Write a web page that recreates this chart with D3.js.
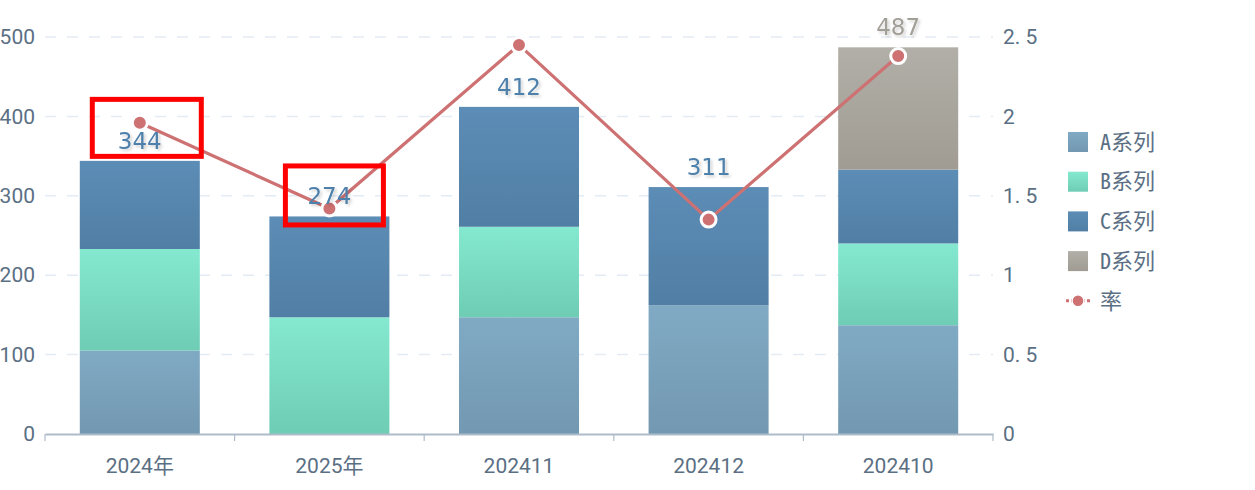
<!DOCTYPE html>
<html><head><meta charset="utf-8">
<script src="https://cdn.jsdelivr.net/npm/d3@7/dist/d3.min.js"></script>
<style>
html,body{margin:0;padding:0;background:#fff;}
svg{display:block;}
</style></head>
<body>
<svg id="chart" width="1255" height="490"></svg>
<script>
const categories = ["2024年","2025年","202411","202412","202410"];
const seriesNames = ["A系列","B系列","C系列","D系列"];
const seriesA = [105, 0, 147, 162, 137];
const seriesB = [128, 147, 114, 0, 103];
const seriesC = [111, 127, 151, 149, 93];
const seriesD = [0, 0, 0, 0, 154];
const rate = [1.96, 1.42, 2.45, 1.35, 2.38];
const rateName = "率";
const leftTicks = [0,100,200,300,400,500];
const rightTicks = [0,0.5,1,1.5,2,2.5];
const rightTickLabels = ["0","0. 5","1","1. 5","2","2. 5"];
const highlighted = ["2024年","2025年"];

// annotation box layout (relative to the stack top of each highlighted category)
const boxLayout = [
  {dx:7, dyTop:-61.5, w:109, h:57},
  {dx:5, dyTop:-50.5, w:98, h:59}
];

const colors = [
  ["#80aac4","#7398b1"],
  ["#84e9d0","#6ecdb4"],
  ["#5c8db6","#517ea4"],
  ["#b1afa7","#a09c94"]
];
const labelColors = ["#4e80ab","#4e80ab","#4e80ab","#a29f97"];
const lineColor = "#cd7172";
const textColor = "#5b6f84";

const W = 1255, H = 490;
const m = {left:45, right:262, top:37, bottom:56};
const svg = d3.select("#chart");
const defs = svg.append("defs");
colors.forEach((c,i)=>{
  const g = defs.append("linearGradient").attr("id","g"+i).attr("x1",0).attr("y1",0).attr("x2",0).attr("y2",1);
  g.append("stop").attr("offset","0%").attr("stop-color",c[0]);
  g.append("stop").attr("offset","100%").attr("stop-color",c[1]);
});
const f = defs.append("filter").attr("id","shadow").attr("x","-20%").attr("y","-20%").attr("width","150%").attr("height","150%");
f.append("feDropShadow").attr("dx",2).attr("dy",2).attr("stdDeviation",1.5).attr("flood-color","#000").attr("flood-opacity",0.18);

const x = d3.scaleBand().domain(categories).range([m.left, W - m.right]).paddingInner(0).paddingOuter(0);
const y = d3.scaleLinear().domain([0,500]).range([H - m.bottom, m.top]);
const y2 = d3.scaleLinear().domain([0,2.5]).range([H - m.bottom, m.top]);
const barW = x.bandwidth()*0.633;

// grid
svg.append("g").selectAll("line").data(leftTicks.filter(d=>d>0)).join("line")
  .attr("x1", m.left).attr("x2", W - m.right)
  .attr("y1", d=>y(d)).attr("y2", d=>y(d))
  .attr("stroke","#e3ebf4").attr("stroke-width",1.5).attr("stroke-dasharray","11,11");

// stacked bars
const rows = categories.map((c,i)=>({cat:c, A:seriesA[i], B:seriesB[i], C:seriesC[i], D:seriesD[i]}));
const stack = d3.stack().keys(["A","B","C","D"])(rows);
stack.forEach((layer,li)=>{
  svg.append("g").selectAll("rect").data(layer.filter(d=>d[1]-d[0]>0)).join("rect")
    .attr("x", d=>x(d.data.cat)+(x.bandwidth()-barW)/2)
    .attr("width", barW)
    .attr("y", d=>y(d[1]))
    .attr("height", d=>y(d[0])-y(d[1]))
    .attr("fill","url(#g"+li+")");
});

// axes
const fontAxis = "Roboto, 'Noto Sans CJK SC', sans-serif";
const ax = svg.append("g").attr("transform",`translate(0,${y(0)})`)
  .call(d3.axisBottom(x).tickSize(0).tickPadding(24));
ax.select(".domain").attr("stroke","#aebbc9").attr("stroke-width",2);
ax.selectAll("text").attr("fill",textColor).attr("font-size",21).attr("font-family",fontAxis);
// boundary ticks
const bounds = categories.map(c=>x(c)).concat([W - m.right]);
svg.append("g").selectAll("line").data(bounds).join("line")
  .attr("x1",d=>d).attr("x2",d=>d).attr("y1",y(0)).attr("y2",y(0)+7)
  .attr("stroke","#aebbc9").attr("stroke-width",1.2);

const ay = svg.append("g").attr("transform",`translate(${m.left},0)`)
  .call(d3.axisLeft(y).tickValues(leftTicks).tickSize(0).tickPadding(10));
ay.select(".domain").remove();
ay.selectAll("text").attr("fill",textColor).attr("font-size",21).attr("font-family",fontAxis);

const ay2 = svg.append("g").attr("transform",`translate(${W - m.right},0)`)
  .call(d3.axisRight(y2).tickValues(rightTicks).tickSize(0).tickPadding(10).tickFormat((d,i)=>rightTickLabels[i]));
ay2.select(".domain").remove();
ay2.selectAll("text").attr("fill",textColor).attr("font-size",21).attr("font-family",fontAxis);

// line
const cx = c=>x(c)+x.bandwidth()/2;
svg.append("path").datum(rate)
  .attr("d", d3.line().x((d,i)=>cx(categories[i])).y(d=>y2(d)))
  .attr("fill","none").attr("stroke",lineColor).attr("stroke-width",3.2);
svg.append("g").selectAll("circle").data(rate).join("circle")
  .attr("cx",(d,i)=>cx(categories[i])).attr("cy",d=>y2(d)).attr("r",7.5)
  .attr("fill",lineColor).attr("stroke","#fff").attr("stroke-width",3);

// total labels
const totals = rows.map(r=>r.A+r.B+r.C+r.D);
svg.append("g").selectAll("text").data(rows).join("text")
  .attr("x", r=>cx(r.cat)).attr("y",(r,i)=>y(totals[i])-12)
  .attr("text-anchor","middle")
  .attr("font-family","'DejaVu Sans', Verdana, sans-serif").attr("font-size",23)
  .attr("fill", r=> r.D>0 ? labelColors[3] : labelColors[2])
  .attr("filter","url(#shadow)")
  .text((r,i)=>totals[i]);

// highlight boxes
svg.append("g").selectAll("rect").data(highlighted).join("rect")
  .attr("x", (c,i)=>cx(c)+boxLayout[i].dx-boxLayout[i].w/2).attr("width",(c,i)=>boxLayout[i].w)
  .attr("y", (c,i)=>y(totals[categories.indexOf(c)])+boxLayout[i].dyTop).attr("height",(c,i)=>boxLayout[i].h)
  .attr("fill","none").attr("stroke","#ff0000").attr("stroke-width",5);

// legend
const lg = svg.append("g").attr("transform","translate(1068,142)");
const legendFont = "'Noto Sans Mono CJK SC', 'DejaVu Sans Mono', monospace";
seriesNames.forEach((n,i)=>{
  const g = lg.append("g").attr("transform",`translate(0,${i*39.7})`);
  g.append("rect").attr("x",0).attr("y",-10).attr("width",20).attr("height",20).attr("fill","url(#g"+i+")");
  g.append("text").attr("x",32).attr("y",0).attr("dy","0.35em").attr("fill",textColor)
    .attr("font-size",22).attr("font-family",legendFont).text(n);
});
const lr = lg.append("g").attr("transform",`translate(0,${4*39.7})`);
lr.append("line").attr("x1",-2).attr("x2",22).attr("y1",0).attr("y2",0).attr("stroke",lineColor).attr("stroke-width",3).attr("stroke-dasharray","3,2,14,2,3");
lr.append("circle").attr("cx",10).attr("cy",0).attr("r",6).attr("fill",lineColor).attr("stroke","#fff").attr("stroke-width",1.5);
lr.append("text").attr("x",32).attr("y",0).attr("dy","0.35em").attr("fill",textColor)
  .attr("font-size",22).attr("font-family",legendFont).text(rateName);
</script>
</body></html>
